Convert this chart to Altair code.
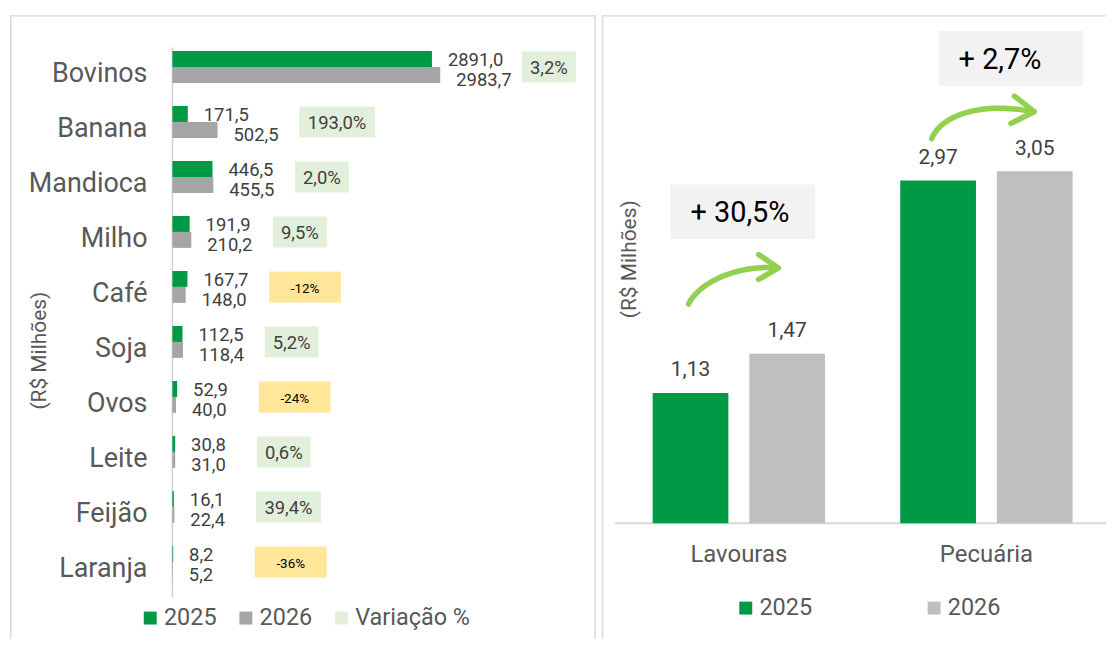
import altair as alt
import pandas as pd
import numpy as np

# ---------------- data ----------------
categories = ["Bovinos", "Banana", "Mandioca", "Milho", "Café", "Soja", "Ovos", "Leite", "Feijão", "Laranja"]
v2025 = [2891.0, 171.5, 446.5, 191.9, 167.7, 112.5, 52.9, 30.8, 16.1, 8.2]
v2026 = [2983.7, 502.5, 455.5, 210.2, 148.0, 118.4, 40.0, 31.0, 22.4, 5.2]
var_labels = ["3,2%", "193,0%", "2,0%", "9,5%", "-12%", "5,2%", "-24%", "0,6%", "39,4%", "-36%"]
var_values = [3.2, 193.0, 2.0, 9.5, -12.0, 5.2, -24.0, 0.6, 39.4, -36.0]

groups = ["Lavouras", "Pecuária"]
g2025 = [1.13, 2.97]
g2026 = [1.47, 3.05]
g_growth = ["+ 30,5%", "+ 2,7%"]
years = ["2025", "2026"]
legend_left = ["2025", "2026", "Variação %"]

# annotation placement (data units of the right panel: x = group index, y = R$ milhões)
growth_box_x = [(-0.276, 0.308), (0.807, 1.390)]
growth_box_y = [(2.461, 2.936), (3.791, 4.266)]
arrow_ctrl = [  # cubic bezier control points (start, c1, c2, end)
    [(-0.203, 1.900), (-0.163, 2.081), (-0.014, 2.237), (0.151, 2.215)],
    [(0.779, 3.333), (0.819, 3.549), (0.992, 3.653), (1.185, 3.567)],
]
arrow_heads = [
    [(0.080, 2.329), (0.160, 2.213), (0.080, 2.113)],
    [(1.113, 3.702), (1.193, 3.567), (1.099, 3.466)],
]

# ---------------- styles ----------------
FONT = "Roboto"
GREEN = "#009A46"
GRAY_L = "#A5A5A5"
GRAY_R = "#BFBFBF"
LIGHT = "#E2EFDA"
YELLOW = "#FFE699"
ARROW = "#92D050"
BORDER = "#D9D9D9"
TXT = "#595959"
VAL = "#404040"


def br(v, d):
    return f"{v:.{d}f}".replace(".", ",")


# ---------------- left panel ----------------
LW, H = 588, 626
PXU = 0.0901          # pixels per R$ milhão
ZERO = 163            # pixel position of zero inside the panel
STEP_L = 55.2         # pixels per category
TOP_L = 60            # pixel of first category centre
xs_l = alt.Scale(domain=[-ZERO / PXU, (LW - ZERO) / PXU], nice=False, zero=False)
lo = -TOP_L / STEP_L
ys_l = alt.Scale(domain=[lo, lo + H / STEP_L], nice=False, zero=False, reverse=True)
U = 1 / STEP_L        # one pixel in category units

brow = []
for i, (c, a, b) in enumerate(zip(categories, v2025, v2026)):
    brow.append({"cat": c, "i": i, "year": "2025", "value": a, "zero": 0.0,
                 "y1": i - 24 * U, "y2": i - 8 * U, "label": br(a, 1)})
    brow.append({"cat": c, "i": i, "year": "2026", "value": b, "zero": 0.0,
                 "y1": i - 8 * U, "y2": i + 8 * U, "label": br(b, 1)})
bars_l = pd.DataFrame(brow)

rows = []
for i, (c, a, b, lab, pv) in enumerate(zip(categories, v2025, v2026, var_labels, var_values)):
    m = max(a, b)
    left = m + 82 / PXU
    w = 72 if pv < 0 else 11 * len(lab) + 10
    right = left + w / PXU
    rows.append({"cat": c, "i": i, "label": lab, "neg": bool(pv < 0), "bx1": left, "bx2": right,
                 "bxc": (left + right) / 2, "by1": i - 23.5 * U, "by2": i + 7.5 * U, "byc": i - 8 * U})
box_l = pd.DataFrame(rows)
cat_df = pd.DataFrame({"cat": categories, "i": list(range(len(categories))), "zero": 0.0,
                       "top": -27.6 * U, "bot": len(categories) - 1 + 27.6 * U})

bars = alt.Chart(bars_l).mark_rect().encode(
    x=alt.X("zero:Q", scale=xs_l, axis=None), x2="value:Q",
    y=alt.Y("y1:Q", scale=ys_l, axis=None), y2="y2:Q",
    color=alt.Color(
        "year:N",
        scale=alt.Scale(domain=legend_left, range=[GREEN, GRAY_L, LIGHT]),
        legend=alt.Legend(
            orient="none", legendX=129, legendY=593, direction="horizontal", title=None,
            symbolType="square", symbolSize=169, symbolStrokeWidth=0, labelFont=FONT,
            labelFontSize=23.5, labelColor=TXT, columnPadding=17, labelOffset=2, padding=0,
        ),
    ),
)

X_l = alt.X("value:Q", scale=xs_l, axis=None)
Yi = alt.Y("i:Q", scale=ys_l, axis=None)

lab25 = alt.Chart(bars_l).transform_filter("datum.year == '2025'").mark_text(
    align="left", baseline="middle", dx=16, dy=-15, font=FONT, fontSize=18.5, color=VAL
).encode(x=X_l, y=Yi, text="label:N")
lab26 = alt.Chart(bars_l).transform_filter("datum.year == '2026'").mark_text(
    align="left", baseline="middle", dx=16, dy=5, font=FONT, fontSize=18.5, color=VAL
).encode(x=X_l, y=Yi, text="label:N")

cat_text = alt.Chart(cat_df).mark_text(
    align="right", baseline="middle", dx=-25, dy=-0.5, font=FONT, fontSize=27, color=TXT
).encode(x=alt.X("zero:Q", scale=xs_l, axis=None), y=Yi, text="cat:N")

axis_line = alt.Chart(cat_df.head(1)).mark_rule(color="#D0D0D0", strokeWidth=1.5).encode(
    x=alt.X("zero:Q", scale=xs_l, axis=None),
    y=alt.Y("top:Q", scale=ys_l, axis=None), y2="bot:Q",
)

box_rect = alt.Chart(box_l).mark_rect().encode(
    x=alt.X("bx1:Q", scale=xs_l, axis=None), x2="bx2:Q",
    y=alt.Y("by1:Q", scale=ys_l, axis=None), y2="by2:Q",
    color=alt.condition("datum.neg", alt.value(YELLOW), alt.value(LIGHT)),
)
box_txt_pos = alt.Chart(box_l).transform_filter("!datum.neg").mark_text(
    align="center", baseline="middle", dy=1, font=FONT, fontSize=18.5, color=VAL
).encode(x=alt.X("bxc:Q", scale=xs_l, axis=None), y=alt.Y("byc:Q", scale=ys_l, axis=None), text="label:N")
box_txt_neg = alt.Chart(box_l).transform_filter("datum.neg").mark_text(
    align="center", baseline="middle", dy=2.5, font=FONT, fontSize=13.5, color="#000000"
).encode(x=alt.X("bxc:Q", scale=xs_l, axis=None), y=alt.Y("byc:Q", scale=ys_l, axis=None), text="label:N")

one = pd.DataFrame({"k": [0]})
ytitle_l = alt.Chart(one).mark_text(
    angle=270, align="center", baseline="middle", font=FONT, fontSize=21, color=TXT, text="(R$ Milhões)"
).encode(x=alt.value(30), y=alt.value(336.7))

border_l = [
    alt.Chart(one).mark_rule(color=BORDER, strokeWidth=1.5).encode(x=alt.value(0), x2=alt.value(LW), y=alt.value(0.75)),
    alt.Chart(one).mark_rule(color=BORDER, strokeWidth=1.5).encode(x=alt.value(0.75), y=alt.value(0), y2=alt.value(H)),
    alt.Chart(one).mark_rule(color=BORDER, strokeWidth=1.5).encode(x=alt.value(LW - 0.75), y=alt.value(0), y2=alt.value(H)),
]

left = alt.layer(
    *border_l, axis_line, bars, box_rect, lab25, lab26, box_txt_pos, box_txt_neg, cat_text, ytitle_l
).properties(width=LW, height=H)

# ---------------- right panel ----------------
RW = 506
STEP = 248.5      # px per group
C0 = 137.5        # px of first group centre
PXV = 115.8       # px per R$ unit
BASE = 510        # px of zero line
xs_r = alt.Scale(domain=[-C0 / STEP, (RW - C0) / STEP], nice=False, zero=False)
ys_r = alt.Scale(domain=[-(H - BASE) / PXV, BASE / PXV], nice=False, zero=False)

OFF = 48.5 / STEP
HALF = 38 / STEP
rrows = []
for i, (g, a, b) in enumerate(zip(groups, g2025, g2026)):
    for yr, v, s in (("2025", a, -1), ("2026", b, 1)):
        xc = i + s * OFF
        rrows.append({"grp": g, "idx": i, "year": yr, "value": v, "y0": 0.0, "xc": xc,
                      "x1": xc - HALF, "x2": xc + HALF, "label": br(v, 2)})
bars_r = pd.DataFrame(rrows)
grp_df = pd.DataFrame({"grp": groups, "idx": list(range(len(groups))), "y0": 0.0})

gb = pd.DataFrame({
    "label": g_growth,
    "x1": [p[0] for p in growth_box_x], "x2": [p[1] for p in growth_box_x],
    "y1": [p[0] for p in growth_box_y], "y2": [p[1] for p in growth_box_y],
})
gb["ym"] = (gb["y1"] + gb["y2"]) / 2

arows = []
tt = np.linspace(0, 1, 40)
for k, (p0, p1, p2, p3) in enumerate(arrow_ctrl):
    for j, t in enumerate(tt):
        bx = (1 - t) ** 3 * p0[0] + 3 * (1 - t) ** 2 * t * p1[0] + 3 * (1 - t) * t ** 2 * p2[0] + t ** 3 * p3[0]
        by = (1 - t) ** 3 * p0[1] + 3 * (1 - t) ** 2 * t * p1[1] + 3 * (1 - t) * t ** 2 * p2[1] + t ** 3 * p3[1]
        arows.append({"id": f"c{k}", "i": j, "x": float(bx), "y": float(by)})
for k, head in enumerate(arrow_heads):
    for j, (hx, hy) in enumerate(head):
        arows.append({"id": f"h{k}", "i": j, "x": hx, "y": hy})
arr_df = pd.DataFrame(arows)

bars2 = alt.Chart(bars_r).mark_rect().encode(
    x=alt.X("x1:Q", scale=xs_r, axis=None), x2="x2:Q",
    y=alt.Y("value:Q", scale=ys_r, axis=None), y2="y0:Q",
    color=alt.Color(
        "year:N",
        scale=alt.Scale(domain=years, range=[GREEN, GRAY_R]),
        legend=alt.Legend(
            orient="none", legendX=132.7, legendY=583, direction="horizontal", title=None,
            symbolType="square", symbolSize=169, symbolStrokeWidth=0, labelFont=FONT,
            labelFontSize=23.5, labelColor=TXT, columnPadding=110, labelOffset=2, padding=0,
        ),
    ),
)
vals2 = alt.Chart(bars_r).mark_text(
    align="center", baseline="alphabetic", dy=-16.8, font=FONT, fontSize=21, color=VAL
).encode(x=alt.X("xc:Q", scale=xs_r, axis=None), y=alt.Y("value:Q", scale=ys_r, axis=None), text="label:N")

base_rule = alt.Chart(grp_df.head(1)).mark_rule(color=BORDER, strokeWidth=2).encode(
    y=alt.Y("y0:Q", scale=ys_r, axis=None), x=alt.value(13), x2=alt.value(RW)
)
grp_text = alt.Chart(grp_df).mark_text(
    align="center", baseline="alphabetic", dy=39.3, font=FONT, fontSize=24, color=TXT
).encode(x=alt.X("idx:Q", scale=xs_r, axis=None), y=alt.Y("y0:Q", scale=ys_r, axis=None), text="grp:N")

gbox = alt.Chart(gb).mark_rect(color="#F2F2F2").encode(
    x=alt.X("x1:Q", scale=xs_r, axis=None), x2="x2:Q",
    y=alt.Y("y1:Q", scale=ys_r, axis=None), y2="y2:Q",
)
gtxt = alt.Chart(gb).mark_text(
    align="left", baseline="middle", dx=20, dy=1.6, font=FONT, fontSize=29, color="#000000"
).encode(x=alt.X("x1:Q", scale=xs_r, axis=None), y=alt.Y("ym:Q", scale=ys_r, axis=None), text="label:N")

arrows = alt.Chart(arr_df).mark_line(
    color=ARROW, strokeWidth=5.5, strokeCap="round", strokeJoin="round"
).encode(
    x=alt.X("x:Q", scale=xs_r, axis=None), y=alt.Y("y:Q", scale=ys_r, axis=None),
    detail="id:N", order="i:Q",
)

ytitle_r = alt.Chart(one).mark_text(
    angle=270, align="center", baseline="middle", font=FONT, fontSize=21, color=TXT, text="(R$ Milhões)"
).encode(x=alt.value(28), y=alt.value(245))

border_r = [
    alt.Chart(one).mark_rule(color=BORDER, strokeWidth=1.5).encode(x=alt.value(0), x2=alt.value(RW), y=alt.value(0.75)),
    alt.Chart(one).mark_rule(color=BORDER, strokeWidth=1.5).encode(x=alt.value(0.75), y=alt.value(0), y2=alt.value(H)),
]

right = alt.layer(
    *border_r, base_rule, bars2, vals2, grp_text, gbox, gtxt, arrows, ytitle_r
).properties(width=RW, height=H)

chart = (
    alt.hconcat(left, right, spacing=4)
    .resolve_scale(color="independent")
    .resolve_legend(color="independent")
    .configure_view(stroke=None)
    .properties(padding={"left": 1, "top": 5, "right": 0, "bottom": 0}, background="white")
)

chart.save("out.html", embed_options={"renderer": "svg", "actions": False})
